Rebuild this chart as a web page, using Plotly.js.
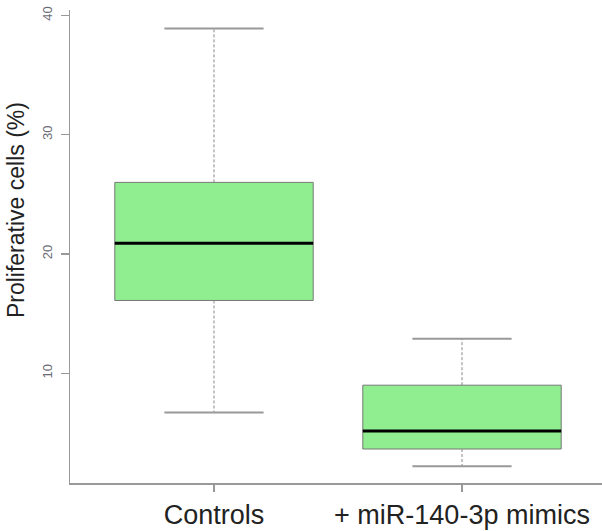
<!DOCTYPE html>
<html>
<head>
<meta charset="utf-8">
<script src="https://cdn.plot.ly/plotly-3.0.1.min.js"></script>
<style>html,body{margin:0;padding:0;background:#fff;}#chart{width:602px;height:531px;}</style>
</head>
<body>
<div id="chart"></div>
<script>
// Data
const categories = ['Controls', '+ miR-140-3p mimics'];
const lowerWhisker = [6.7, 2.2];
const q1 = [16.1, 3.65];
const median = [20.9, 5.15];
const q3 = [26.0, 9.0];
const upperWhisker = [38.9, 12.9];
const yTicks = [10, 20, 30, 40];
const yTitle = 'Proliferative cells (%)';

const pos = categories.map((c, i) => i);
const boxHalf = 0.4, capHalf = 0.2;

// Whiskers (dashed)
const wx = [], wy = [];
pos.forEach((p, i) => {
  wx.push(p, p, null, p, p, null);
  wy.push(q3[i], upperWhisker[i], null, q1[i], lowerWhisker[i], null);
});
// Caps (solid)
const cx = [], cy = [];
pos.forEach((p, i) => {
  cx.push(p - capHalf, p + capHalf, null, p - capHalf, p + capHalf, null);
  cy.push(upperWhisker[i], upperWhisker[i], null, lowerWhisker[i], lowerWhisker[i], null);
});
// Medians (thick black)
const mx = [], my = [];
pos.forEach((p, i) => {
  mx.push(p - boxHalf, p + boxHalf, null);
  my.push(median[i], median[i], null);
});

const traces = [
  {type: 'scatter', mode: 'lines', x: wx, y: wy, hoverinfo: 'skip',
   line: {color: '#888', width: 1, dash: '3px,2px'}, showlegend: false},
  {type: 'scatter', mode: 'lines', x: cx, y: cy, hoverinfo: 'skip',
   line: {color: '#999', width: 2}, showlegend: false},
  {type: 'box', x: pos, q1: q1, median: median, q3: q3,
   lowerfence: q1, upperfence: q3, width: 2 * boxHalf, whiskerwidth: 0,
   fillcolor: '#90EE90', line: {color: '#777', width: 1}, boxpoints: false,
   hoverinfo: 'skip', showlegend: false},
  {type: 'scatter', mode: 'lines', x: mx, y: my, hoverinfo: 'skip',
   line: {color: '#000', width: 3}, showlegend: false}
];

const layout = {
  width: 602, height: 531,
  margin: {l: 70, r: 0, t: 10, b: 48},
  paper_bgcolor: '#fff', plot_bgcolor: '#fff',
  font: {family: 'Liberation Sans, Arial, sans-serif', color: '#222'},
  showlegend: false,
  xaxis: {
    type: 'linear', range: [-0.5806, 1.5645],
    tickvals: pos, ticktext: categories,
    showgrid: false, zeroline: false,
    showline: true, linecolor: '#999', linewidth: 1.5,
    ticks: 'outside', ticklen: 7, tickcolor: '#999', tickwidth: 1.5,
    ticklabelstandoff: 0,
    tickfont: {size: 27, color: '#222'}
  },
  yaxis: {
    range: [0.8, 40.45],
    tickvals: yTicks, ticktext: yTicks.map(String),
    tickangle: -90,
    showgrid: false, zeroline: false,
    showline: true, linecolor: '#999', linewidth: 1.5,
    ticks: 'outside', ticklen: 8, tickcolor: '#999', tickwidth: 1.5,
    ticklabelstandoff: 3,
    tickfont: {size: 13, color: '#6b6b75'}
  },
  annotations: [{
    text: yTitle, xref: 'paper', yref: 'paper',
    x: -54 / 532, y: 0.577, xanchor: 'center', yanchor: 'middle',
    textangle: -90, showarrow: false,
    font: {size: 23, color: '#222'}
  }]
};

Plotly.newPlot('chart', traces, layout, {displayModeBar: false, staticPlot: true});
</script>
</body>
</html>
